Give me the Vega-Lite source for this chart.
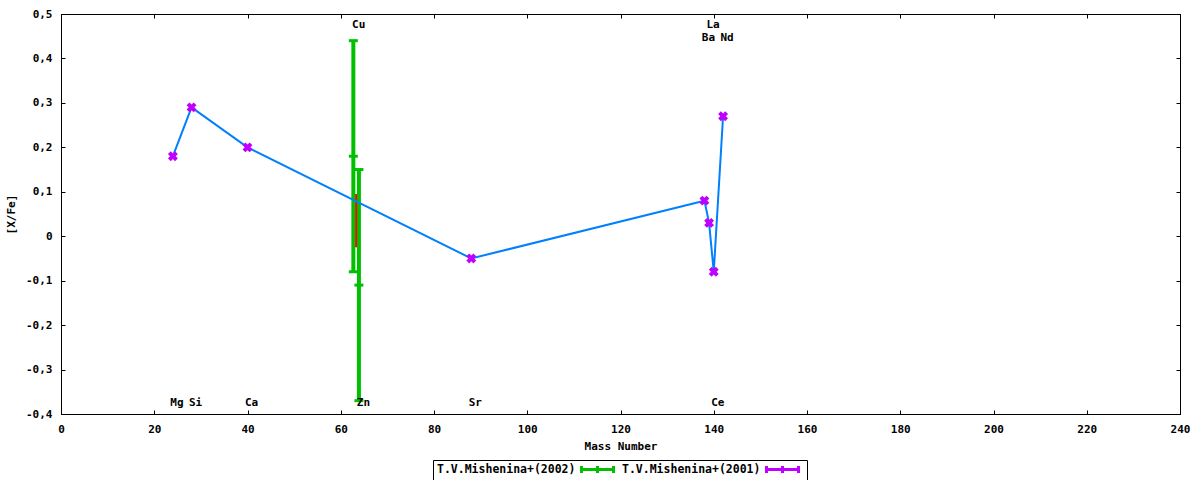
{
  "$schema": "https://vega.github.io/schema/vega-lite/v6.json",
  "width": 1119,
  "height": 400,
  "autosize": "none",
  "padding": {"left": 61, "top": 14, "right": 20, "bottom": 66},
  "background": "white",
  "config": {
    "view": {"stroke": "black", "strokeWidth": 1},
    "font": "DejaVu Sans Mono",
    "axis": {"grid": false, "domainColor": "black", "tickColor": "black", "labelColor": "black", "titleColor": "black",
      "labelFont": "DejaVu Sans Mono", "labelFontWeight": "bold", "labelFontSize": 11,
      "titleFont": "DejaVu Sans Mono", "titleFontWeight": "bold", "titleFontSize": 11,
      "labelFlush": false, "labelOverlap": false, "tickSize": -4, "labelPadding": 13}
  },
  "datasets": {
    "pts": [
      {"el": "Mg", "x": 24, "y": 0.18, "series": "T.V.Mishenina+(2001)"},
      {"el": "Si", "x": 28, "y": 0.29, "series": "T.V.Mishenina+(2001)"},
      {"el": "Ca", "x": 40, "y": 0.20, "series": "T.V.Mishenina+(2001)"},
      {"el": "Sr", "x": 88, "y": -0.05, "series": "T.V.Mishenina+(2001)"},
      {"el": "Ba", "x": 138, "y": 0.08, "series": "T.V.Mishenina+(2001)"},
      {"el": "La", "x": 139, "y": 0.03, "series": "T.V.Mishenina+(2001)"},
      {"el": "Ce", "x": 140, "y": -0.08, "series": "T.V.Mishenina+(2001)"},
      {"el": "Nd", "x": 142, "y": 0.27, "series": "T.V.Mishenina+(2001)"}
    ],
    "err": [
      {"el": "Cu", "x": 62.7, "y": 0.18, "lo": -0.08, "hi": 0.44, "series": "T.V.Mishenina+(2002)"},
      {"el": "Zn", "x": 63.9, "y": -0.11, "lo": -0.37, "hi": 0.15, "series": "T.V.Mishenina+(2002)"}
    ],
    "red": [
      {"x": 63.3, "lo": -0.025, "hi": 0.095}
    ],
    "labels": [
      {"el": "Mg", "x": 24, "y": -0.376},
      {"el": "Si", "x": 28, "y": -0.376},
      {"el": "Ca", "x": 40, "y": -0.376},
      {"el": "Zn", "x": 64, "y": -0.376},
      {"el": "Sr", "x": 88, "y": -0.376},
      {"el": "Ce", "x": 140, "y": -0.376},
      {"el": "Cu", "x": 63, "y": 0.475},
      {"el": "La", "x": 139, "y": 0.475},
      {"el": "Ba", "x": 138, "y": 0.446},
      {"el": "Nd", "x": 142, "y": 0.446}
    ]
  },
  "layer": [
    {
      "data": {"name": "err"},
      "mark": {"type": "rule", "strokeWidth": 4, "opacity": 1},
      "encoding": {
        "x": {"field": "x", "type": "quantitative", "scale": {"domain": [0, 240], "nice": false, "zero": false},
          "axis": {"orient": "bottom", "values": [0, 20, 40, 60, 80, 100, 120, 140, 160, 180, 200, 220, 240],
            "title": "Mass Number", "titleY": 32, "titleBaseline": "middle"}},
        "y": {"field": "lo", "type": "quantitative", "scale": {"domain": [-0.4, 0.5], "nice": false, "zero": false},
          "axis": {"orient": "left", "values": [-0.4, -0.3, -0.2, -0.1, 0, 0.1, 0.2, 0.3, 0.4, 0.5],
            "labelExpr": "replace(replace(format(datum.value, '.1~f'), '.', ','), '\u2212', '-')",
            "title": "[X/Fe]", "titleX": -50, "titleY": 200, "titleAngle": 270, "titleAlign": "center", "titleBaseline": "middle"}},
        "y2": {"field": "hi"},
        "color": {"field": "series", "type": "nominal",
          "scale": {"domain": ["T.V.Mishenina+(2002)", "T.V.Mishenina+(2001)"], "range": ["#00c000", "#c000ff"]},
          "legend": {
            "orient": "none", "legendX": 372, "legendY": 446, "direction": "horizontal", "title": null,
            "strokeColor": "black", "fillColor": "white", "padding": 2,
            "labelFont": "DejaVu Sans Mono", "labelFontWeight": "bold", "labelFontSize": 11.5, "labelColor": "black",
            "symbolType": "M-2.67,-0.58V0.58M-2.67,0H2.67M2.67,-0.58V0.58M0,-0.58V0.58",
            "symbolSize": 144, "symbolStrokeWidth": 3, "symbolOpacity": 1,
            "labelAlign": "left", "labelOffset": -168, "symbolOffset": 155, "columnPadding": -2
          }}
      }
    },
    {
      "data": {"name": "err"},
      "transform": [{"fold": ["lo", "y", "hi"], "as": ["k", "v"]}],
      "mark": {"type": "tick", "orient": "horizontal", "color": "#00c000", "size": 9, "thickness": 3, "opacity": 1},
      "encoding": {
        "x": {"field": "x", "type": "quantitative", "axis": null},
        "y": {"field": "v", "type": "quantitative", "axis": null}
      }
    },
    {
      "data": {"name": "red"},
      "mark": {"type": "rule", "color": "#ff0000", "strokeWidth": 2},
      "encoding": {
        "x": {"field": "x", "type": "quantitative",
          "axis": {"orient": "top", "values": [0, 20, 40, 60, 80, 100, 120, 140, 160, 180, 200, 220, 240], "labels": false, "title": null}},
        "y": {"field": "lo", "type": "quantitative",
          "axis": {"orient": "right", "values": [-0.4, -0.3, -0.2, -0.1, 0, 0.1, 0.2, 0.3, 0.4, 0.5], "labels": false, "title": null}},
        "y2": {"field": "hi"}
      }
    },
    {
      "data": {"name": "pts"},
      "mark": {"type": "line", "color": "#0080ff", "strokeWidth": 2},
      "encoding": {
        "x": {"field": "x", "type": "quantitative", "axis": null},
        "y": {"field": "y", "type": "quantitative", "axis": null},
        "order": {"field": "x", "type": "quantitative"}
      }
    },
    {
      "data": {"name": "pts"},
      "mark": {"type": "point", "shape": "cross", "angle": 45, "filled": true, "size": 100, "opacity": 1, "color": "#c000ff"},
      "encoding": {
        "x": {"field": "x", "type": "quantitative", "axis": null},
        "y": {"field": "y", "type": "quantitative", "axis": null}
      }
    },
    {
      "data": {"name": "labels"},
      "mark": {"type": "text", "font": "DejaVu Sans Mono", "fontWeight": "bold", "fontSize": 11, "color": "black", "align": "center", "baseline": "middle", "dx": 4},
      "encoding": {
        "x": {"field": "x", "type": "quantitative", "axis": null},
        "y": {"field": "y", "type": "quantitative", "axis": null},
        "text": {"field": "el", "type": "nominal"}
      }
    }
  ],
  "resolve": {"axis": {"x": "independent", "y": "independent"}}
}
